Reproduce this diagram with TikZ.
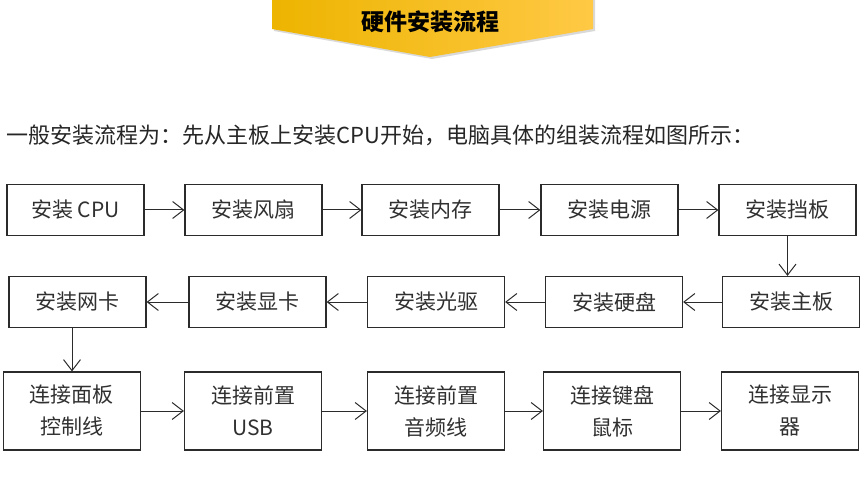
\documentclass[tikz,border=0pt]{standalone}
\usepackage{fontspec}
\setmainfont{Liberation Serif}
\newfontfamily\cjk{Noto Sans CJK SC}
\usepackage{tikz}
\usetikzlibrary{arrows.meta, positioning, shapes}
\definecolor{bannerdark}{HTML}{EDB400}
\definecolor{bannerlight}{HTML}{FFC945}
\definecolor{boxline}{HTML}{2B2B2B}
\definecolor{boxtext}{HTML}{303030}

\begin{document}
\begin{tikzpicture}[x=1pt, y=-1pt,
    flowbox/.style={draw=boxline, line width=1.2pt, minimum width=137pt,
      minimum height=51pt, inner sep=0pt, align=center, text=boxtext,
      font=\cjk\fontsize{21}{32}\selectfont},
    tallbox/.style={flowbox, minimum height=78pt},
    flow/.style={draw=boxline, line width=1pt,
      -{Straight Barb[length=11pt, width=17pt]}}]
    \useasboundingbox (0,0) rectangle (860,484);
    % --- Title banner ---
    \fill[black!15] (274,0) -- (595,0) -- (595,31) -- (432,59) -- (274,31) -- cycle;
    \shade[left color=bannerdark, right color=bannerlight]
      (272,0) -- (593,0) -- (593,29) -- (430,57) -- (272,29) -- cycle;
    \node[font=\cjk\bfseries\fontsize{23}{23}\selectfont] (title) at (430,22) {硬件安装流程};
    \node[anchor=west, text=black!85, font=\cjk\fontsize{22}{22}\selectfont]
      (intro) at (3,135) {一般安装流程为：先从主板上安装CPU开始，电脑具体的组装流程如图所示：};
    % --- Row 1 ---
    \node[flowbox] (cpu)    at (75.5,210)  {安装 CPU};
    \node[flowbox] (fan)    at (253.5,210) {安装风扇};
    \node[flowbox] (ram)    at (430.5,210) {安装内存};
    \node[flowbox] (psu)    at (609.5,210) {安装电源};
    \node[flowbox] (shield) at (787.5,210) {安装挡板};
    % --- Row 2 ---
    \node[flowbox] (board) at (791,302)   {安装主板};
    \node[flowbox] (hdd)   at (614,302)   {安装硬盘};
    \node[flowbox] (odd)   at (436,302)   {安装光驱};
    \node[flowbox] (gpu)   at (257.5,302) {安装显卡};
    \node[flowbox] (nic)   at (77.5,302)  {安装网卡};
    % --- Row 3 ---
    \node[tallbox] (panel) at (72,411)  {连接面板\\控制线};
    \node[tallbox] (usb)   at (253,411) {连接前置\\USB};
    \node[tallbox] (audio) at (436,411) {连接前置\\音频线};
    \node[tallbox] (kbd)   at (612,411) {连接键盘\\鼠标};
    \node[tallbox] (disp)  at (790,411) {连接显示\\器};
    % Connectors
    \draw[flow] (cpu) -- (fan);
    \draw[flow] (fan) -- (ram);
    \draw[flow] (ram) -- (psu);
    \draw[flow] (psu) -- (shield);
    \draw[flow] (shield.south) -- (shield.south |- board.north);
    \draw[flow] (board) -- (hdd);
    \draw[flow] (hdd) -- (odd);
    \draw[flow] (odd) -- (gpu);
    \draw[flow] (gpu) -- (nic);
    \draw[flow] (panel.north |- nic.south) -- (panel.north);
    \draw[flow] (panel) -- (usb);
    \draw[flow] (usb) -- (audio);
    \draw[flow] (audio) -- (kbd);
    \draw[flow] (kbd) -- (disp);
\end{tikzpicture}
\end{document}
